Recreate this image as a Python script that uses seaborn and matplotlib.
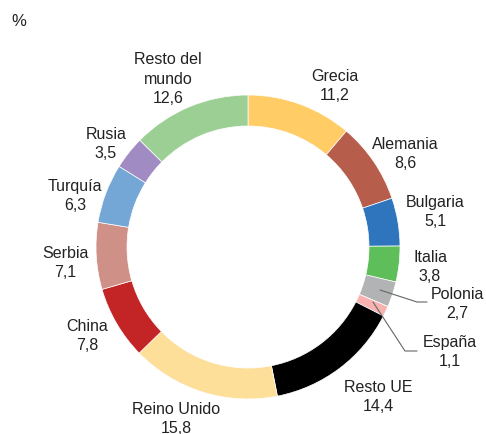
import matplotlib
matplotlib.use('Agg')
import matplotlib.pyplot as plt
import seaborn as sns

sns.set_theme(style='white')
plt.rcParams['font.family'] = ['Liberation Sans', 'DejaVu Sans']

# data
countries = ['Grecia', 'Alemania', 'Bulgaria', 'Italia', 'Polonia', 'España', 'Resto UE',
             'Reino Unido', 'China', 'Serbia', 'Turquía', 'Rusia', 'Resto del\nmundo']
shares = [11.2, 8.6, 5.1, 3.8, 2.7, 1.1, 14.4, 15.8, 7.8, 7.1, 6.3, 3.5, 12.6]
colors = ['#FFCC66', '#B65D4B', '#2E75BD', '#5DBE5A', '#B1B3B4', '#F8B3B1', '#000000',
          '#FDDF9A', '#C32527', '#CF9187', '#74A6D6', '#A18BC3', '#9CCF93']

# label positions in pixels (x, y from top)
label_pos = [(335, 86), (405, 154), (435, 212), (430, 267), (457, 304), (450, 352),
             (378, 397), (176, 419), (87, 336), (65, 263), (75, 196), (106, 144), (168, 79)]

W, H = 486, 435
fig = plt.figure(figsize=(W / 100, H / 100), dpi=100)
ax = fig.add_axes([0, 0, 1, 1])

ax.pie(shares, colors=colors, startangle=90, counterclock=False,
       center=(248, H - 248), radius=152,
       wedgeprops=dict(width=31, linewidth=0.5, edgecolor='white'))

for name, val, (x, y) in zip(countries, shares, label_pos):
    txt = name + '\n' + f'{val:.1f}'.replace('.', ',')
    ax.text(x, H - y, txt, ha='center', va='center', fontsize=11.5,
            color='#222222', linespacing=1.35)

# leader lines for the two small slices
ax.plot([380, 417, 427], [H - 291, H - 303, H - 303], color='#666666', lw=0.8)
ax.plot([373, 405, 417], [H - 303, H - 352, H - 352], color='#666666', lw=0.8)

ax.text(11, H - 22, '%', fontsize=12, color='#222222', va='center')

ax.set_xlim(0, W)
ax.set_ylim(0, H)
ax.set_aspect('equal')
ax.axis('off')
fig.savefig('out.png', dpi=100, facecolor='white')
